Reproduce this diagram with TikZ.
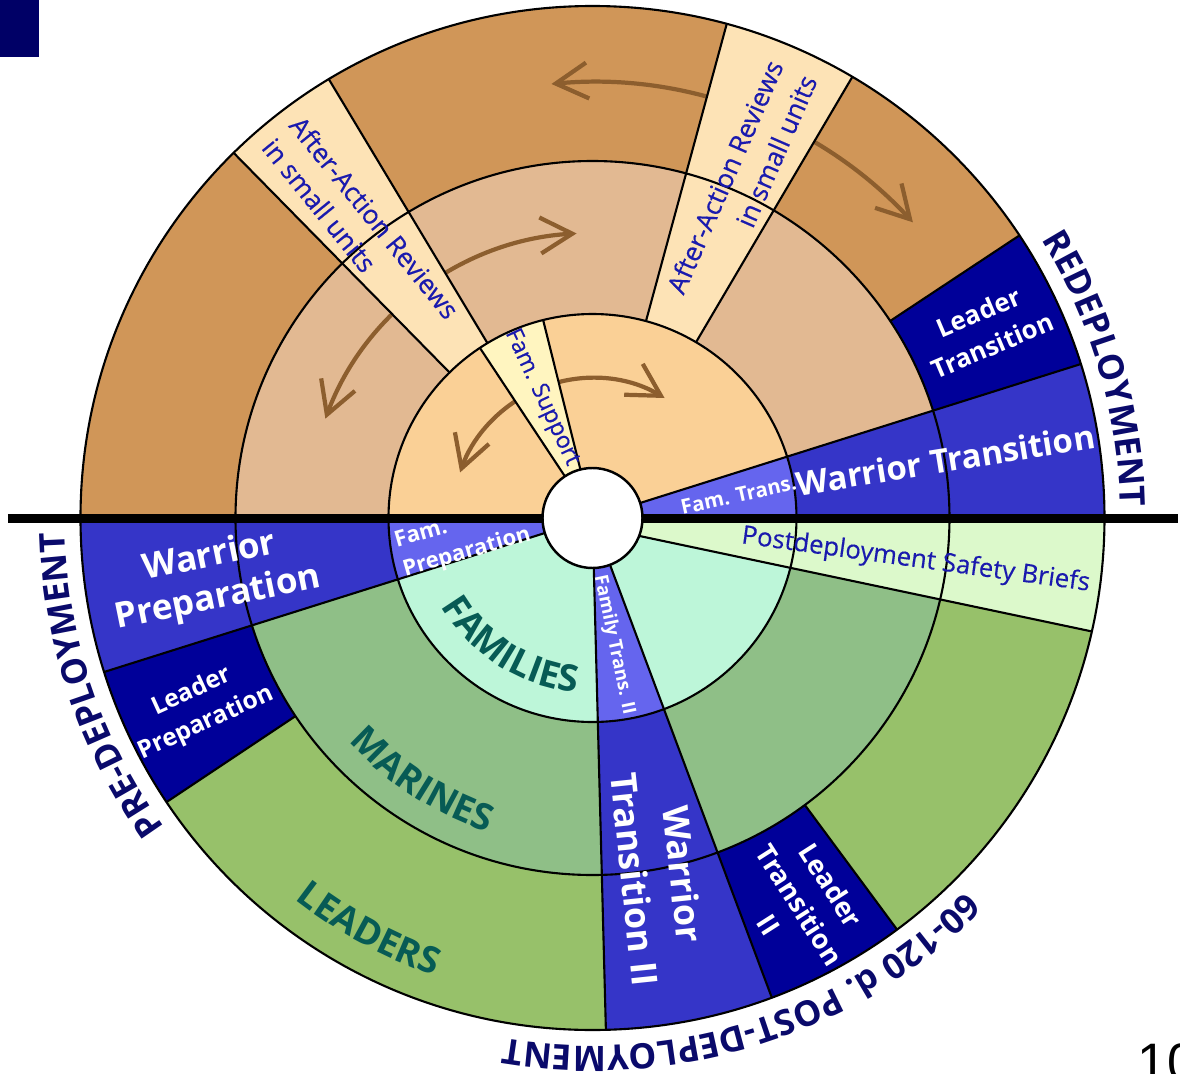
\documentclass[tikz,border=0pt]{standalone}
\usepackage{fontspec}
\setmainfont{Open Sans}
\newfontfamily\arialfont{Liberation Sans}
\newfontfamily\stripfont{Open Sans}[FakeBold=0.3]
\usetikzlibrary{arrows.meta,decorations.text}
\definecolor{outerbrown}{HTML}{D09658}
\definecolor{midtan}{HTML}{E2B992}
\definecolor{innerorange}{HTML}{FAD096}
\definecolor{aarpeach}{HTML}{FDE3B6}
\definecolor{supportyellow}{HTML}{FFF5C0}
\definecolor{innermint}{HTML}{BDF6D9}
\definecolor{midsage}{HTML}{8FBF87}
\definecolor{outergreen}{HTML}{97C16A}
\definecolor{postgreen}{HTML}{DCF9CB}
\definecolor{lightblue}{HTML}{6565EE}
\definecolor{midblue}{HTML}{3535C8}
\definecolor{leadernavy}{HTML}{000099}
\definecolor{phasenavy}{HTML}{0A0A6B}
\definecolor{groupteal}{HTML}{075B55}
\definecolor{textblue}{HTML}{1A1AAE}
\definecolor{arrowbrown}{HTML}{8C5E2E}
\definecolor{cornernavy}{HTML}{000066}
\newcommand{\ringpart}[5]{\fill[#1] (#2:#4) arc[start angle=#2,end angle=#3,radius=#4] -- (#3:#5) arc[start angle=#3,end angle=#2,radius=#5] -- cycle;}
\newcommand{\phasefont}{\fontsize{10}{12}\selectfont\bfseries\color{phasenavy}}
\newcommand{\groupfont}{\fontsize{10.5}{12}\selectfont\bfseries\color{groupteal}}

\begin{document}
\begin{tikzpicture}[
        ringline/.style={black, line width=0.6pt},
        arc arrow/.style={arrowbrown, line width=1.2pt, <->, >={Straight Barb[length=3.2mm,width=3.6mm]}},
        white label/.style={text=white, align=center},
        blue label/.style={text=textblue}]
        \useasboundingbox (-5.925,-5.55) rectangle (5.875,5.18);
        \fill[cornernavy] (-5.925,5.18) rectangle (-5.535,4.61);
        
        \ringpart{outerbrown}{0}{180}{3.57}{5.12}
        \ringpart{midtan}{0}{180}{2.04}{3.57}
        \ringpart{innerorange}{0}{180}{0.5}{2.04}
        \ringpart{outergreen}{180}{360}{3.57}{5.12}
        \ringpart{midsage}{180}{360}{2.04}{3.57}
        \ringpart{innermint}{180}{360}{0.5}{2.04}
        
        \draw[arc arrow] (95.4:4.36) arc[start angle=95.4, end angle=42.7, radius=4.36];
        \draw[arc arrow] (93.2:2.85) arc[start angle=93.2, end angle=159.6, radius=2.85];
        \draw[arc arrow] (59:1.4) arc[start angle=59, end angle=161, radius=1.4];
        
        \ringpart{aarpeach}{121}{134.5}{2.04}{5.12}
        \ringpart{aarpeach}{59.5}{74.8}{2.04}{5.12}
        \ringpart{supportyellow}{104}{123.5}{0.5}{2.04}
        \ringpart{lightblue}{0}{17.5}{0.5}{2.04}
        \ringpart{midblue}{0}{17.5}{2.04}{5.12}
        \ringpart{leadernavy}{17.5}{33.5}{3.57}{5.12}
        \ringpart{lightblue}{180}{197.5}{0.5}{2.04}
        \ringpart{midblue}{180}{197.5}{2.04}{5.12}
        \ringpart{leadernavy}{197.5}{213.7}{3.57}{5.12}
        \ringpart{lightblue}{-88.5}{-69.5}{0.5}{2.04}
        \ringpart{midblue}{-88.5}{-69.5}{2.04}{5.12}
        \ringpart{leadernavy}{-69.5}{-53.5}{3.57}{5.12}
        \begin{scope}
        \clip (0,0) circle (5.12);
        \fill[postgreen] (0.4,0) -- (6,0) -- (6.35,-1.42) -- (-21:0.5) -- (0.4,-0.18) -- cycle;
        \end{scope}
        
        \draw[ringline] (0,0) circle (2.04) (0,0) circle (3.57) (0,0) circle (5.12);
        \foreach \a in {121,134.5,59.5,74.8} \draw[ringline] (\a:2.04) -- (\a:5.12);
        \foreach \a in {104,123.5} \draw[ringline] (\a:0.5) -- (\a:2.04);
        \foreach \a in {17.5,197.5,-88.5,-69.5} \draw[ringline] (\a:0.5) -- (\a:5.12);
        \foreach \a in {33.5,213.7,-53.5} \draw[ringline] (\a:3.57) -- (\a:5.12);
        \draw[ringline] (-21:0.5) -- (-12.8:5.12);
        \draw[line width=0.09cm] (-5.845,0) -- (5.855,0);
        \filldraw[fill=white, draw=black, line width=0.7pt] (0,0) circle (0.5);
        
        \node[blue label, font=\stripfont\fontsize{7.5}{10}\selectfont, rotate=-51, align=left] (aarleft) at (-2.315,2.895) {After-Action Reviews\\in small units};
        \node[blue label, font=\stripfont\fontsize{7.5}{10.5}\selectfont, rotate=66.4, align=right] (aarright) at (1.491,3.339) {After-Action Reviews\\in small units};
        \node[blue label, font=\stripfont\fontsize{6.6}{8}\selectfont, rotate=-65] (famsupport) at (-0.508,1.205) {Fam. Support};
        \node[blue label, font=\stripfont\fontsize{7.3}{9}\selectfont, rotate=-7.8] (postdep) at (3.233,-0.423) {Postdeployment Safety Briefs};
        
        \node[white label, font=\fontsize{5.8}{7}\selectfont\bfseries, rotate=12.5] (famtrans) at (1.46,0.23) {Fam. Trans.};
        \node[white label, font=\fontsize{9.4}{12.8}\selectfont\bfseries, rotate=9.2] (warriortrans) at (3.53,0.583) {Warrior Transition};
        \node[white label, font=\fontsize{7.3}{10.2}\selectfont\bfseries, rotate=23] (leadertrans) at (3.929,1.892) {Leader\\Transition};
        \node[white label, font=\fontsize{6.3}{8.6}\selectfont\bfseries, rotate=16, align=left] (famprep) at (-1.296,-0.206) {Fam.\\Preparation};
        \node[white label, font=\fontsize{10}{12}\selectfont\bfseries, rotate=11.5] (warriorprep) at (-3.786,-0.602) {Warrior\\Preparation};
        \node[white label, font=\fontsize{7}{9.8}\selectfont\bfseries, rotate=24.5] (leaderprep) at (-3.935,-1.894) {Leader\\Preparation};
        \node[white label, font=\fontsize{5.3}{7}\selectfont\bfseries, rotate=-78] (familytrans) at (0.215,-1.27) {Family Trans. II};
        \node[white label, font=\fontsize{10.2}{13.9}\selectfont\bfseries, rotate=-84] (warriortranstwo) at (0.665,-3.587) {Warrior\\Transition II};
        \node[white label, font=\fontsize{7.7}{10.5}\selectfont\bfseries, rotate=-57.5] (leadertranstwo) at (2.075,-3.87) {Leader\\Transition\\II};
        
        \path[decorate, decoration={text along path, text align=center, text={|\groupfont|FAMILIES}}] (200:1.75) arc[start angle=200, end angle=275, radius=1.75];
        \path[decorate, decoration={text along path, text align=center, text={|\groupfont|MARINES}}] (207:3.31) arc[start angle=207, end angle=267, radius=3.31];
        \path[decorate, decoration={text along path, text align=center, text={|\groupfont|LEADERS}}] (221.5:4.84) arc[start angle=221.5, end angle=261.5, radius=4.84];
        
        \path[decorate, decoration={text along path, text align=center, text={|\phasefont|REDEPLOYMENT}}] (44:5.28) arc[start angle=44, end angle=-11, radius=5.28];
        \path[decorate, decoration={text along path, text align=center, text={|\phasefont|PRE-DEPLOYMENT}}] (235:5.28) arc[start angle=235, end angle=162.4, radius=5.28];
        \path[decorate, decoration={text along path, text align=center, text={|\phasefont|60-120 d. POST-DEPLOYMENT}}] (-20:5.28) arc[start angle=-20, end angle=-124.6, radius=5.28];
        
        \node[font=\arialfont\fontsize{15}{18}\selectfont, anchor=north west, inner sep=0pt] (pagenum) at (5.445,-5.25) {10};
\end{tikzpicture}
\end{document}
